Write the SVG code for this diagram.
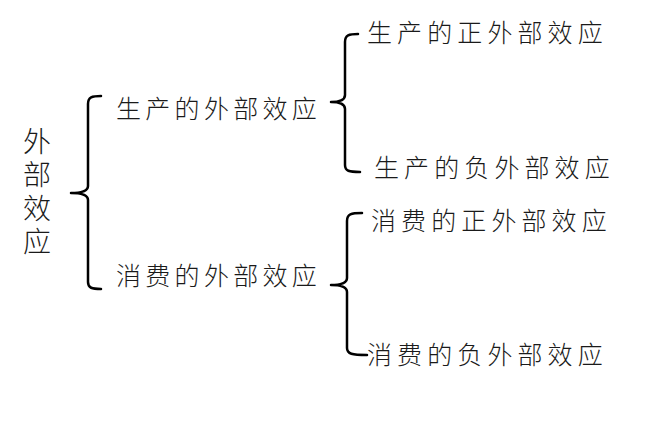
<svg xmlns="http://www.w3.org/2000/svg" width="669" height="422" viewBox="0 0 669 422">
<style>
.t{font-family:"Noto Sans CJK SC","Noto Sans CJK JP",sans-serif;font-size:25px;font-weight:300;fill:#1a1a1a;letter-spacing:5.1px}
.m{letter-spacing:4.3px}
.r{font-family:"Noto Sans CJK SC","Noto Sans CJK JP",sans-serif;font-size:28px;font-weight:300;fill:#1a1a1a;writing-mode:vertical-rl;letter-spacing:5.5px}
.b{fill:none;stroke:#000;stroke-width:2.5;stroke-linecap:round;stroke-linejoin:round}
</style>
<rect width="669" height="422" fill="#fff"/>
<g id="root">
<text class="r" x="37" y="127">外部效应</text>
</g>
<g id="connectors">
<path class="b" d="M101,96 C92,96 88,97 88,104 L88,186 C88,190 84,193 71,193 C84,193 88,196 88,200 L88,282 C88,288 92,289 101,289"/>
<path class="b" d="M358,34 C349,34 345,35 345,42 L345,95 C345,99 342,102 331,102 C342,102 345,105 345,109 L345,165 C345,171 349,172 360,172"/>
<path class="b" d="M362,213 C351,213 347,214 347,221 L347,278 C347,282 344,285 331,285 C344,285 347,288 347,292 L347,348 C347,354 352,355 367,355"/>
</g>
<g id="n1"><text class="t m" x="116" y="118">生产的外部效应</text></g>
<g id="n2"><text class="t m" x="116" y="285">消费的外部效应</text></g>
<g id="n3"><text class="t" x="367" y="42">生产的正外部效应</text></g>
<g id="n4"><text class="t" x="374" y="177">生产的负外部效应</text></g>
<g id="n5"><text class="t" x="371" y="230">消费的正外部效应</text></g>
<g id="n6"><text class="t" x="367" y="364">消费的负外部效应</text></g>
</svg>
